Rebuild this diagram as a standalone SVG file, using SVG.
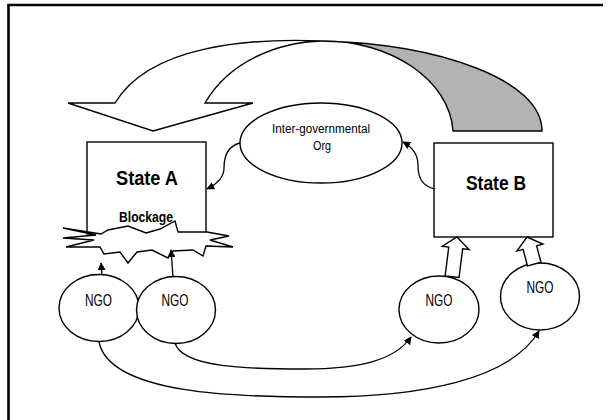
<svg xmlns="http://www.w3.org/2000/svg" width="608" height="420" viewBox="0 0 608 420">
<defs>
<style>
.sh{fill:#fff;stroke:#000;stroke-width:1.4}
.gr{fill:#b3b3b3;stroke:#000;stroke-width:1.4}
.cn{fill:none;stroke:#000;stroke-width:1.3}
.t{font-family:"Liberation Sans Narrow","Liberation Sans",Arial,sans-serif;fill:#000;text-anchor:middle}
.b{font-weight:bold}
</style>
<marker id="ah" viewBox="0 0 10 10" refX="9" refY="5" markerWidth="8" markerHeight="8" markerUnits="userSpaceOnUse" orient="auto">
<path d="M0,0 L10,5 L0,10 Z" fill="#000"/>
</marker>
</defs>
<rect width="608" height="420" fill="#fff"/>
<g id="frame" fill="none" stroke="#000" stroke-width="2.6">
<path d="M8.5,420 L8.5,5 L603,5"/>
</g>
<g id="twisted-arrow">
<path class="gr" d="M322,41 C440,44 542,80 542,131 L453,131 C450,80 390,40 322,41 Z"/>
<path class="sh" d="M68,103 L115,103 C150,45 250,38 322,41 C280,42 230,60 205,103 L253,103 L153,131 Z"/>
</g>
<g id="state-a">
<rect class="sh" x="87" y="142" width="119" height="92"/>
<text class="t b" x="147" y="185" font-size="20.5" textLength="62" lengthAdjust="spacingAndGlyphs">State A</text>
</g>
<g id="blockage">
<text class="t b" x="146" y="222" font-size="14" textLength="54" lengthAdjust="spacingAndGlyphs">Blockage</text>
<path class="sh" d="M63,228 L101,234 L108,230 L128,226 L146,233 L160,229 L175,221 L178,232 L207,232 L229,236 L210,240 L233,247 L206,246 L203,256 L193,250 L173,251 L168,258 L152,250 L137,252 L128,263 L120,252 L104,254 L100,247 L66,247 L94,240 L63,238 L96,235 Z"/>
</g>
<g id="state-b">
<rect class="sh" x="434" y="143" width="119" height="94"/>
<text class="t b" x="496" y="190" font-size="20.5" textLength="60" lengthAdjust="spacingAndGlyphs">State B</text>
</g>
<g id="igo">
<ellipse class="sh" cx="321" cy="143" rx="81" ry="40"/>
<text class="t" x="321" y="133" font-size="12.5" textLength="98" lengthAdjust="spacingAndGlyphs">Inter-governmental</text>
<text class="t" x="322" y="150" font-size="12.5" textLength="18" lengthAdjust="spacingAndGlyphs">Org</text>
</g>
<g id="ngo1">
<ellipse class="sh" cx="99" cy="308" rx="40" ry="33.5"/>
<text class="t" x="98.5" y="306" font-size="17" textLength="27" lengthAdjust="spacingAndGlyphs">NGO</text>
</g>
<g id="ngo2">
<ellipse class="sh" cx="176" cy="310" rx="39.5" ry="33.5"/>
<text class="t" x="175" y="306" font-size="17" textLength="27" lengthAdjust="spacingAndGlyphs">NGO</text>
</g>
<g id="ngo3">
<ellipse class="sh" cx="439" cy="309.5" rx="40" ry="33.5"/>
<text class="t" x="439" y="306" font-size="17" textLength="27" lengthAdjust="spacingAndGlyphs">NGO</text>
</g>
<g id="ngo4">
<ellipse class="sh" cx="540" cy="296.5" rx="39.5" ry="33.5"/>
<text class="t" x="540" y="293" font-size="17" textLength="27" lengthAdjust="spacingAndGlyphs">NGO</text>
</g>
<g id="connectors">
<path class="cn" marker-end="url(#ah)" d="M240,143 C228,146 224,155 224,168 C224,178 215,185 207,189"/>
<path class="cn" marker-end="url(#ah)" d="M435,189 C422,186 418,178 418,165 C418,155 412,147 403,142"/>
<path class="cn" marker-end="url(#ah)" d="M102,275 L101,263"/>
<path class="cn" marker-end="url(#ah)" d="M173,277 L171,250"/>
<path class="cn" marker-end="url(#ah)" d="M175,343 C182,368 250,369 305,369 C360,369 395,360 411,337"/>
<path class="cn" marker-end="url(#ah)" d="M99,342 C110,395 240,397 320,397 C420,397 510,380 539,331"/>
<path class="sh" transform="rotate(7 457 237)" d="M457,237 L470.5,248 L464,248 L464,277 L450,277 L450,248 L443.5,248 Z"/>
<path class="sh" transform="rotate(-15 527 237)" d="M527,237 L540.5,248 L534,248 L534,265 L520,265 L520,248 L513.5,248 Z"/>
</g>
</svg>
